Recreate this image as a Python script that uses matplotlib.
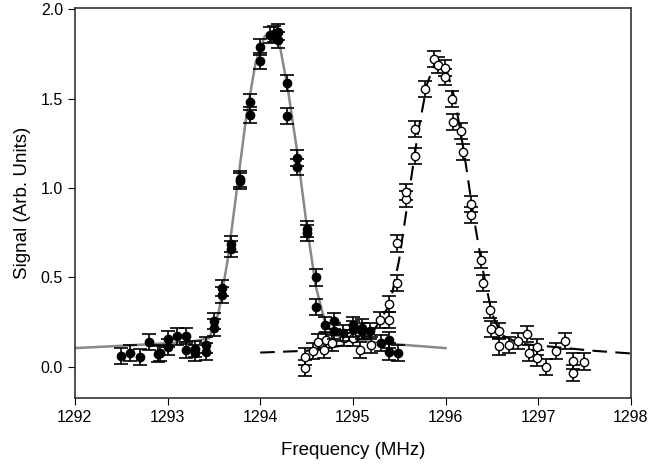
import numpy as np
import matplotlib
matplotlib.use('Agg')
import matplotlib.pyplot as plt

plt.rcParams['font.family'] = ['Liberation Sans', 'DejaVu Sans']

# filled points (first resonance)
f_filled = [1292.50, 1292.60, 1292.70, 1292.80, 1292.90, 1292.92, 1293.00, 1293.00,
            1293.10, 1293.20, 1293.20, 1293.30, 1293.30, 1293.41, 1293.41, 1293.50,
            1293.50, 1293.59, 1293.59, 1293.69, 1293.69, 1293.78, 1293.78, 1293.89,
            1293.89, 1294.00, 1294.00, 1294.11, 1294.15, 1294.19, 1294.19, 1294.29,
            1294.29, 1294.40, 1294.40, 1294.51, 1294.51, 1294.60, 1294.60, 1294.70,
            1294.80, 1294.80, 1294.89, 1295.00, 1295.00, 1295.10, 1295.10, 1295.19,
            1295.30, 1295.39, 1295.39, 1295.49]
s_filled = [0.062, 0.080, 0.055, 0.140, 0.070, 0.080, 0.155, 0.110,
            0.170, 0.175, 0.095, 0.080, 0.100, 0.086, 0.120, 0.255,
            0.220, 0.440, 0.400, 0.685, 0.660, 1.050, 1.040, 1.480,
            1.410, 1.790, 1.710, 1.855, 1.860, 1.875, 1.830, 1.585,
            1.405, 1.170, 1.120, 0.770, 0.750, 0.500, 0.335, 0.235,
            0.255, 0.200, 0.190, 0.235, 0.210, 0.220, 0.200, 0.200,
            0.135, 0.150, 0.086, 0.080]
err_filled = 0.045

# open points (second resonance)
f_open = [1294.48, 1294.48, 1294.57, 1294.62, 1294.69, 1294.71, 1294.78, 1294.90,
          1295.00, 1295.08, 1295.20, 1295.29, 1295.39, 1295.39, 1295.48, 1295.48,
          1295.57, 1295.57, 1295.67, 1295.67, 1295.78, 1295.88, 1295.92, 1295.99,
          1295.99, 1296.07, 1296.08, 1296.17, 1296.19, 1296.28, 1296.28, 1296.38,
          1296.40, 1296.48, 1296.49, 1296.58, 1296.58, 1296.68, 1296.78, 1296.88,
          1296.90, 1296.99, 1296.99, 1297.08, 1297.19, 1297.29, 1297.38, 1297.38,
          1297.49]
s_open = [0.058, -0.007, 0.090, 0.140, 0.095, 0.150, 0.135, 0.160,
          0.160, 0.095, 0.120, 0.260, 0.260, 0.350, 0.470, 0.690,
          0.940, 0.980, 1.180, 1.330, 1.556, 1.720, 1.690, 1.670,
          1.620, 1.500, 1.370, 1.320, 1.200, 0.910, 0.850, 0.600,
          0.470, 0.320, 0.210, 0.200, 0.114, 0.120, 0.145, 0.185,
          0.080, 0.112, 0.048, 0.000, 0.090, 0.145, 0.035, -0.032,
          0.030]
err_open = 0.045

# fit curves
fit1_f = [1292.0, 1292.5, 1293.0, 1293.3, 1293.45, 1293.55, 1293.65, 1293.75, 1293.85,
          1293.95, 1294.05, 1294.12, 1294.20, 1294.30, 1294.40, 1294.50, 1294.60,
          1294.70, 1294.80, 1294.90, 1295.20, 1295.50, 1296.0]
fit1_s = [0.105, 0.118, 0.132, 0.145, 0.160, 0.300, 0.600, 1.000, 1.400,
          1.700, 1.850, 1.870, 1.830, 1.550, 1.200, 0.800, 0.450,
          0.250, 0.180, 0.160, 0.140, 0.125, 0.105]
fit2_f = [1294.0, 1294.5, 1294.9, 1295.2, 1295.4, 1295.5, 1295.6, 1295.7, 1295.8,
          1295.9, 1296.0, 1296.1, 1296.2, 1296.3, 1296.4, 1296.5, 1296.6, 1296.8,
          1297.2, 1297.6, 1298.0]
fit2_s = [0.080, 0.090, 0.120, 0.180, 0.350, 0.600, 0.950, 1.300, 1.580,
          1.720, 1.680, 1.500, 1.200, 0.850, 0.550, 0.300, 0.180, 0.130,
          0.110, 0.090, 0.075]

fig = plt.figure(figsize=(6.51, 4.69), dpi=100)
ax = fig.add_axes([0.115, 0.151, 0.854, 0.832])

ax.plot(fit1_f, fit1_s, color='#888888', lw=1.8, zorder=1)
ax.plot(fit2_f, fit2_s, color='black', lw=1.5, dashes=(7, 4), zorder=1)

ax.errorbar(f_filled, s_filled, yerr=err_filled, fmt='o', color='black',
            ms=6, capsize=5, elinewidth=1.2, capthick=1.2, zorder=3)
ax.errorbar(f_open, s_open, yerr=err_open, fmt='o', mfc='white', mec='black',
            color='black', ms=6, capsize=5, elinewidth=1.2, capthick=1.2, zorder=2)

ax.set_xlim(1292, 1298)
ax.set_ylim(-0.175, 2.007)
ax.set_xticks(np.arange(1292, 1299, 1))
ax.set_yticks([0.0, 0.5, 1.0, 1.5, 2.0])
ax.set_yticklabels(['0.0', '0.5', '1.0', '1.5', '2.0'])
ax.tick_params(direction='out', length=5, labelsize=11.5, top=False, right=False)
for sp in ax.spines.values():
    sp.set_linewidth(1.2)
    sp.set_color('#333333')

ax.set_xlabel('Frequency (MHz)', fontsize=13.5, labelpad=12)
ax.set_ylabel('Signal (Arb. Units)', fontsize=13.5, labelpad=7)

fig.savefig('out.png', dpi=100)
